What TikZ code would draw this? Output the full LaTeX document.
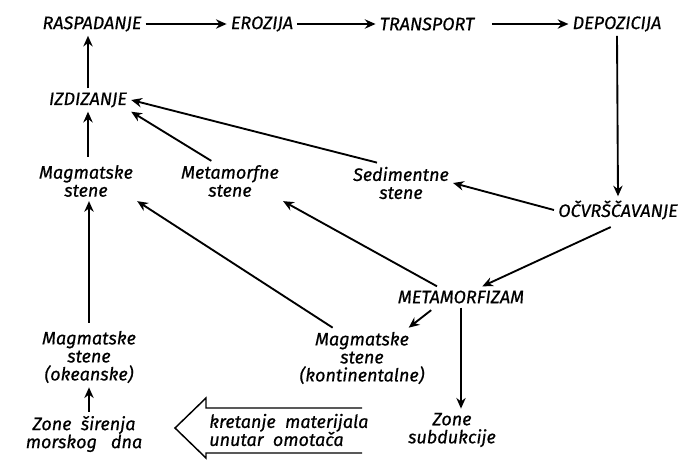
\documentclass[tikz,border=0pt]{standalone}
\usepackage{fontspec}
\setmainfont{Fira Sans}[ItalicFeatures={FakeBold=0.6}]
\usetikzlibrary{arrows.meta}

\tikzset{
  lbl/.style={font=\itshape\fontsize{13.5}{13.5}\selectfont, align=center, inner sep=3pt},
  flow/.style={line width=1.4pt, -{Stealth[length=8pt,width=7pt]}},
}

\begin{document}
\begin{tikzpicture}[x=0.75pt,y=0.75pt,yscale=-1,xscale=1]
\useasboundingbox (0,0) rectangle (688,464);

% Text Node
\node[lbl] (rasp) at (92,24) {RASPADANJE};
% Text Node
\node[lbl] (eroz) at (262,24) {EROZIJA};
% Text Node
\node[lbl] (trans) at (427,24) {TRANSPORT};
% Text Node
\node[lbl] (depo) at (617,24) {DEPOZICIJA};
% Text Node
\node[lbl] (izdiz) at (88,100) {IZDIZANJE};
% Text Node
\node[lbl] (magA) at (86,181) {Magmatske\\stene};
% Text Node
\node[lbl] (metaS) at (230,181) {Metamorfne\\stene};
% Text Node
\node[lbl] (sedim) at (401,183) {Sedimentne\\stene};
% Text Node
\node[lbl] (ocvr) at (618,210) {OČVRŠČAVANJE};
% Text Node
\node[lbl] (meta) at (461,297) {METAMORFIZAM};
% Text Node
\node[lbl] (magK) at (362,358) {Magmatske\\stene\\(kontinentalne)};
% Text Node
\node[lbl] (magO) at (89,357) {Magmatske\\stene\\(okeanske)};
% Text Node
\node[lbl] (zoneS) at (84,434) {Zone\ \ širenja\\morskog\ \ \ dna};
% Text Node
\node[lbl] (zoneSub) at (452,430) {Zone\\subdukcije};
% Text Node
\node[lbl, align=left, anchor=west] (kret) at (205,430) {kretanje\ \ materijala\\unutar\ \ omotača};

%Shape: Arrow
\draw [line width=1.1pt] (362,408) -- (206,408) -- (206,398) -- (175,428) -- (206,458) -- (206,453) -- (362,453) ;

% Connectors
\draw [flow] (rasp) -- (eroz);
\draw [flow] (eroz) -- (trans);
\draw [flow, shorten <=10pt] (trans) -- (depo);
\draw [flow] (depo.south) -- (ocvr.north);
\draw [flow] (ocvr.west) -- (sedim.east);
\draw [flow, shorten <=6pt] (ocvr.south) -- ([xshift=16pt]meta.north);
\draw [flow] ([xshift=-18pt]sedim.north) -- (izdiz.east);
\draw [flow] ([xshift=-14pt]metaS.north) -- (izdiz.south east);
\draw [flow, shorten <=3pt] (izdiz.south |- magA.north) -- (izdiz.south);
\draw [flow] (izdiz.north) -- (izdiz.north |- rasp.south);
\draw [flow, shorten <=3pt] (magO.north) -- (magO.north |- magA.south);
\draw [flow] (magO.south |- zoneS.north) -- (magO.south);
\draw [flow] ([xshift=-22pt]magK.north) -- (magA.south east);
\draw [flow, shorten <=3pt] ([xshift=-20pt]meta.south) -- ([xshift=-15pt]magK.north east);
\draw [flow] ([xshift=-18pt]meta.north) -- (metaS.south east);
\draw [flow] (meta.south) -- (meta.south |- zoneSub.north);

\end{tikzpicture}
\end{document}
